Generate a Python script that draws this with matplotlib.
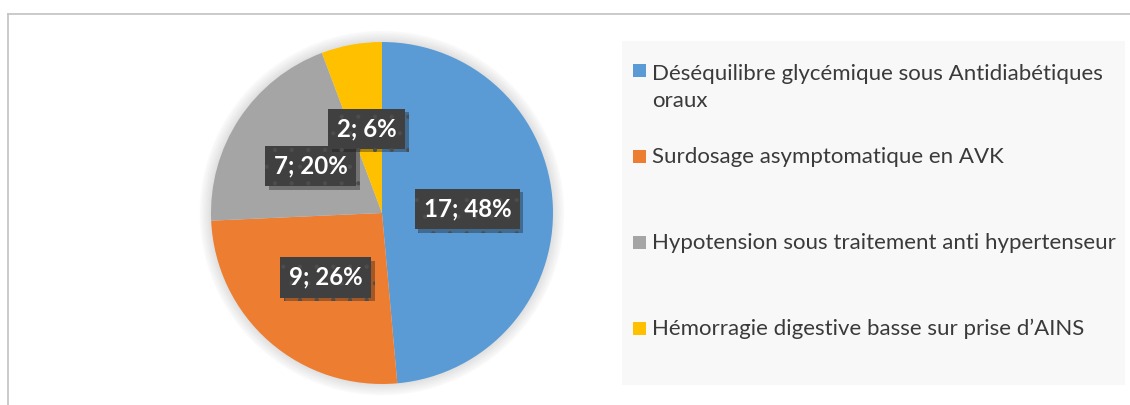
import matplotlib.pyplot as plt
from matplotlib.patches import Rectangle, Circle
from matplotlib.lines import Line2D
import matplotlib.patheffects as pe

categories = [
    "Déséquilibre glycémique sous Antidiabétiques\noraux",
    "Surdosage asymptomatique en AVK",
    "Hypotension sous traitement anti hypertenseur",
    "Hémorragie digestive basse sur prise d\u2019AINS",
]
values = [17, 9, 7, 2]
percents = [48, 26, 20, 6]
colors = ["#5B9BD5", "#ED7D31", "#A5A5A5", "#FFC000"]

W, H = 1130, 405
fig = plt.figure(figsize=(W / 100, H / 100), dpi=100)
fig.patch.set_facecolor("white")

# outer chart frame (cropped at right and bottom)
fig.add_artist(Line2D([8 / W, 1], [1 - 14 / H, 1 - 14 / H], color="#c6c6c6", lw=1.3))
fig.add_artist(Line2D([8 / W, 8 / W], [0, 1 - 14 / H], color="#c6c6c6", lw=1.3))

# pie
ax = fig.add_axes([211 / W, 21 / H, 342 / W, 342 / H])
for i in range(10):
    ax.add_patch(Circle((0, 0), 1 + 0.007 * i, color="black", alpha=0.012,
                        zorder=0, clip_on=False))
wedges, texts, autotexts = ax.pie(
    values, colors=colors, startangle=90, counterclock=False, radius=1,
    autopct="%1.0f%%", pctdistance=0.5,
    wedgeprops=dict(linewidth=0),
    textprops=dict(color="white", fontweight="bold", fontsize=17.3, family="Lato"),
)
plt.rcParams["hatch.linewidth"] = 0.6
for t, v, p in zip(autotexts, values, percents):
    t.set_text(f"{v}; {p}%")
    t.set_bbox(dict(boxstyle="square,pad=0.36", facecolor="#404040",
                    edgecolor="#4d4d4d", linewidth=0, hatch="."))
    t.get_bbox_patch().set_path_effects(
        [pe.SimplePatchShadow(offset=(2.5, -2.5), alpha=0.35), pe.Normal()])
ax.set_xlim(-1, 1)
ax.set_ylim(-1, 1)
ax.set_aspect("equal")
ax.axis("off")

# legend panel
fig.add_artist(Rectangle((622 / W, (H - 385) / H), 503 / W, 344 / H,
                         facecolor="#f8f8f8", edgecolor="none"))
base0, step, line_gap = 77, 86, 30
for i, (lab, c) in enumerate(zip(categories, colors)):
    yb = base0 + i * step
    fig.add_artist(Rectangle((633 / W, (H - yb) / H), 13 / W, 13 / H,
                             facecolor=c, edgecolor="none"))
    # baseline alignment of multi-line text follows the last line
    extra = lab.count("\n") * line_gap
    fig.text(652 / W, (H - yb - extra) / H, lab, ha="left", va="baseline",
             fontsize=16, family="Lato", color="#3a3a3a", linespacing=1.45)

fig.savefig("out.png", dpi=100)
